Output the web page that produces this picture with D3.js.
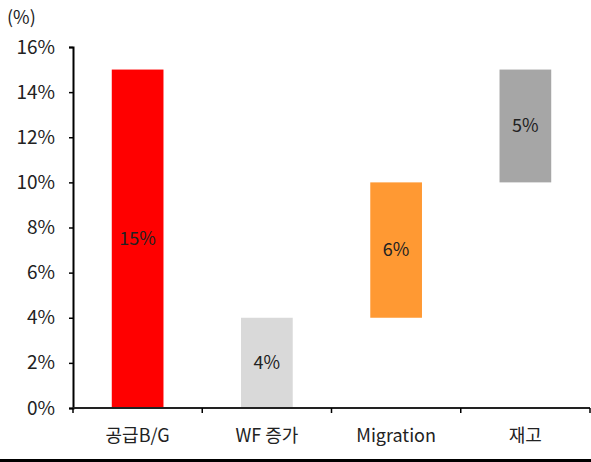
<!DOCTYPE html>
<html>
<head>
<meta charset="utf-8">
<script src="https://cdn.jsdelivr.net/npm/d3@7"></script>
<style>
  body { margin: 0; background: #fff; }
  text { font-family: "Noto Sans CJK KR", "Noto Sans", sans-serif; fill: #222; }
</style>
</head>
<body>
<div id="chart"></div>
<script>
// data
const categories = ["공급B/G", "WF 증가", "Migration", "재고"];
const barStart = [0, 0, 4, 10];
const barEnd = [15, 4, 10, 15];
const barLabels = ["15%", "4%", "6%", "5%"];
const barColors = ["#FF0000", "#D9D9D9", "#FF9933", "#A6A6A6"];
const yTicks = [0, 2, 4, 6, 8, 10, 12, 14, 16];

const width = 591,
    height = 462,
    margin = { top: 47, right: 1, bottom: 54, left: 73 };

const svg = d3.select("#chart")
    .append("svg")
    .attr("width", width)
    .attr("height", height);

// scales
const xScale = d3.scaleBand()
    .domain(categories)
    .range([margin.left, width - margin.right])
    .paddingInner(0.6)
    .paddingOuter(0.3);

const yScale = d3.scaleLinear()
    .domain([0, 16])
    .range([height - margin.bottom, margin.top]);

// bars
svg.append("g")
    .selectAll("rect")
    .data(categories)
    .enter()
    .append("rect")
    .attr("x", d => xScale(d))
    .attr("width", xScale.bandwidth())
    .attr("y", (d, i) => yScale(barEnd[i]))
    .attr("height", (d, i) => yScale(barStart[i]) - yScale(barEnd[i]))
    .attr("fill", (d, i) => barColors[i]);

// bar labels
svg.append("g")
    .selectAll("text")
    .data(categories)
    .enter()
    .append("text")
    .attr("x", d => xScale(d) + xScale.bandwidth() / 2)
    .attr("y", (d, i) => yScale((barStart[i] + barEnd[i]) / 2))
    .attr("dy", "0.35em")
    .attr("text-anchor", "middle")
    .style("font-size", "18px")
    .text((d, i) => barLabels[i]);

// y axis
const yAxis = d3.axisLeft(yScale)
    .tickValues(yTicks)
    .tickSize(4)
    .tickPadding(14)
    .tickFormat(d => d + "%");

const yG = svg.append("g")
    .attr("transform", "translate(" + margin.left + ",0)")
    .call(yAxis);
yG.select(".domain").attr("stroke", "#000").attr("stroke-width", 2);
yG.selectAll(".tick line").attr("stroke", "#000").attr("stroke-width", 1.5);
yG.selectAll(".tick text").style("font-size", "19px").attr("fill", "#222")
    .style("font-family", "\"Noto Sans CJK KR\", sans-serif");

// x axis: ticks on the category boundaries
const boundaries = categories.map(d => xScale(d) - xScale.step() * xScale.paddingInner() / 2);
boundaries[0] = margin.left;
boundaries.push(width - margin.right);

const xG = svg.append("g");
xG.append("line")
    .attr("x1", margin.left)
    .attr("x2", width - margin.right)
    .attr("y1", yScale(0))
    .attr("y2", yScale(0))
    .attr("stroke", "#222")
    .attr("stroke-width", 2);
xG.selectAll(".xtick")
    .data(boundaries)
    .enter()
    .append("line")
    .attr("x1", d => d)
    .attr("x2", d => d)
    .attr("y1", yScale(0))
    .attr("y2", yScale(0) + 5)
    .attr("stroke", "#000")
    .attr("stroke-width", 1.5);
xG.selectAll(".xlabel")
    .data(categories)
    .enter()
    .append("text")
    .attr("x", d => xScale(d) + xScale.bandwidth() / 2)
    .attr("y", yScale(0) + 34)
    .attr("text-anchor", "middle")
    .style("font-size", "18px")
    .text(d => d);

// unit label
svg.append("text")
    .attr("x", 7)
    .attr("y", 24)
    .style("font-size", "18px")
    .text("(%)");

// bottom rule
svg.append("line")
    .attr("x1", 0)
    .attr("x2", width)
    .attr("y1", 460.5)
    .attr("y2", 460.5)
    .attr("stroke", "#000")
    .attr("stroke-width", 3);
</script>
</body>
</html>
